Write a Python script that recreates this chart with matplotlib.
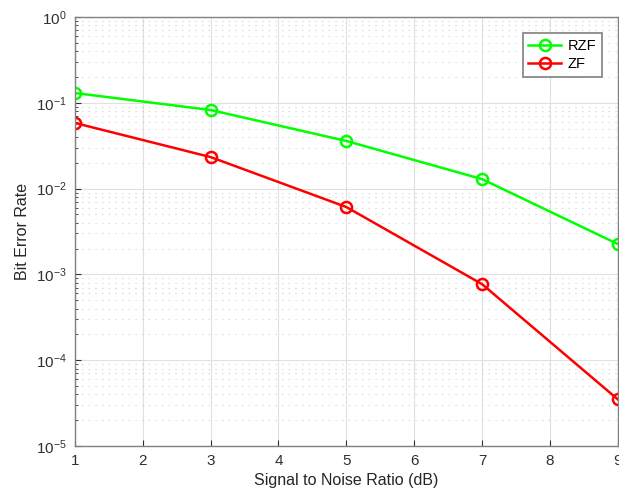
import matplotlib
matplotlib.use("Agg")
import matplotlib.pyplot as plt
from matplotlib.ticker import LogLocator, NullFormatter

plt.rcParams['font.family'] = ['Liberation Sans', 'DejaVu Sans']
plt.rcParams['axes.unicode_minus'] = False

snr = [1, 3, 5, 7, 9]
ber_rzf = [0.130, 0.0824, 0.0359, 0.0129, 0.00226]
ber_zf = [0.0582, 0.0233, 0.0061, 0.00077, 3.5e-5]

fig = plt.figure(figsize=(6.19, 5.0), dpi=100)
ax = fig.add_axes([0.121, 0.108, 0.877, 0.858])

ax.semilogy(snr, ber_rzf, '-o', color=(0, 1, 0), lw=1.8, ms=8, mfc='none', mew=1.8, label='RZF')
ax.semilogy(snr, ber_zf, '-o', color=(1, 0, 0), lw=1.8, ms=8, mfc='none', mew=1.8, label='ZF')

ax.set_xlim(1, 9)
ax.set_ylim(1e-5, 1)
ax.set_xticks(range(1, 10))
ax.yaxis.set_major_locator(LogLocator(base=10, numticks=10))
ax.yaxis.set_minor_locator(LogLocator(base=10, subs=range(2, 10), numticks=20))
ax.yaxis.set_minor_formatter(NullFormatter())

ax.grid(True, which='major', color='#e0e0e0', lw=0.8, ls='-')
ax.grid(True, which='minor', axis='y', color='#cfcfcf', lw=0.8, ls=(0, (1, 5)))
ax.set_axisbelow(True)

for s in ax.spines.values():
    s.set_color('#808080')
    s.set_linewidth(1.0)
ax.tick_params(which='both', direction='in', colors='#303030', labelsize=11, top=False, right=False)
ax.tick_params(which='major', length=4, pad=6)
ax.tick_params(which='minor', length=2)

ax.set_xlabel('Signal to Noise Ratio (dB)', fontsize=11.5, color='#262626', labelpad=3)
ax.set_ylabel('Bit Error Rate', fontsize=11.5, color='#262626', labelpad=4)

leg = ax.legend(loc='upper right', bbox_to_anchor=(0.985, 0.98), fontsize=10.5, frameon=True, fancybox=False,
                edgecolor='#808080', framealpha=1, handlelength=2.2, handletextpad=0.5,
                borderpad=0.4, labelspacing=0.3)
leg.get_frame().set_linewidth(1.2)

fig.savefig('out.png', dpi=100)
